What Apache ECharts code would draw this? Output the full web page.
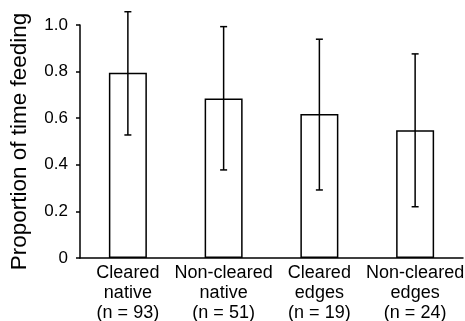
<!DOCTYPE html>
<html><head><meta charset="utf-8">
<script src="https://cdn.jsdelivr.net/npm/echarts@6/dist/echarts.min.js"></script>
<style>html,body{margin:0;padding:0;background:#fff}#c{width:465px;height:321px}</style>
</head><body><div id="c"></div>
<script>
var categories = ['Cleared\nnative\n(n = 93)', 'Non-cleared\nnative\n(n = 51)', 'Cleared\nedges\n(n = 19)', 'Non-cleared\nedges\n(n = 24)'];
var means = [0.795, 0.685, 0.618, 0.548];
var errLow = [0.528, 0.378, 0.292, 0.220];
var errHigh = [1.057, 0.993, 0.939, 0.876];
var yTicks = [0, 0.2, 0.4, 0.6, 0.8, 1.0];

var font = 'Liberation Sans, Arial, sans-serif';
var chart = echarts.init(document.getElementById('c'));
chart.setOption({
  animation: false,
  backgroundColor: '#fff',
  grid: {left: 80, right: 2, top: 25, bottom: 63, containLabel: false, outerBoundsMode: 'none'},
  xAxis: {
    type: 'category', data: categories,
    axisLine: {lineStyle: {color: '#000', width: 1.5}},
    axisTick: {show: false},
    axisLabel: {color: '#000', fontFamily: font, fontSize: 18, lineHeight: 20, margin: 5, interval: 0, hideOverlap: false}
  },
  yAxis: {
    type: 'value', min: 0, max: 1.0, interval: 0.2,
    name: 'Proportion of time feeding', nameLocation: 'middle', nameGap: 49,
    nameTextStyle: {color: '#000', fontFamily: font, fontSize: 22.5},
    axisLine: {show: true, lineStyle: {color: '#000', width: 1.5}},
    axisTick: {show: true, inside: false, length: 4, lineStyle: {color: '#000', width: 1.5}},
    splitLine: {show: false},
    axisLabel: {color: '#000', fontFamily: font, fontSize: 17, margin: 12,
      formatter: function (v) { return v === 0 ? '0' : v.toFixed(1); }}
  },
  series: [{
    type: 'bar', data: means, barWidth: 38,
    itemStyle: {color: '#fff', borderColor: '#000', borderWidth: 1.5}
  }, {
    type: 'custom', clip: false, z: 10,
    data: categories.map(function (c, i) { return [i, errLow[i], errHigh[i]]; }),
    renderItem: function (params, api) {
      var x = api.value(0);
      var lo = api.coord([x, api.value(1)]);
      var hi = api.coord([x, api.value(2)]);
      var w = 3.5;
      var st = {stroke: '#000', lineWidth: 1.5};
      return {type: 'group', children: [
        {type: 'line', shape: {x1: lo[0], y1: lo[1], x2: hi[0], y2: hi[1]}, style: st},
        {type: 'line', shape: {x1: lo[0] - w, y1: lo[1], x2: lo[0] + w, y2: lo[1]}, style: st},
        {type: 'line', shape: {x1: hi[0] - w, y1: hi[1], x2: hi[0] + w, y2: hi[1]}, style: st}
      ]};
    }
  }]
});
</script></body></html>
